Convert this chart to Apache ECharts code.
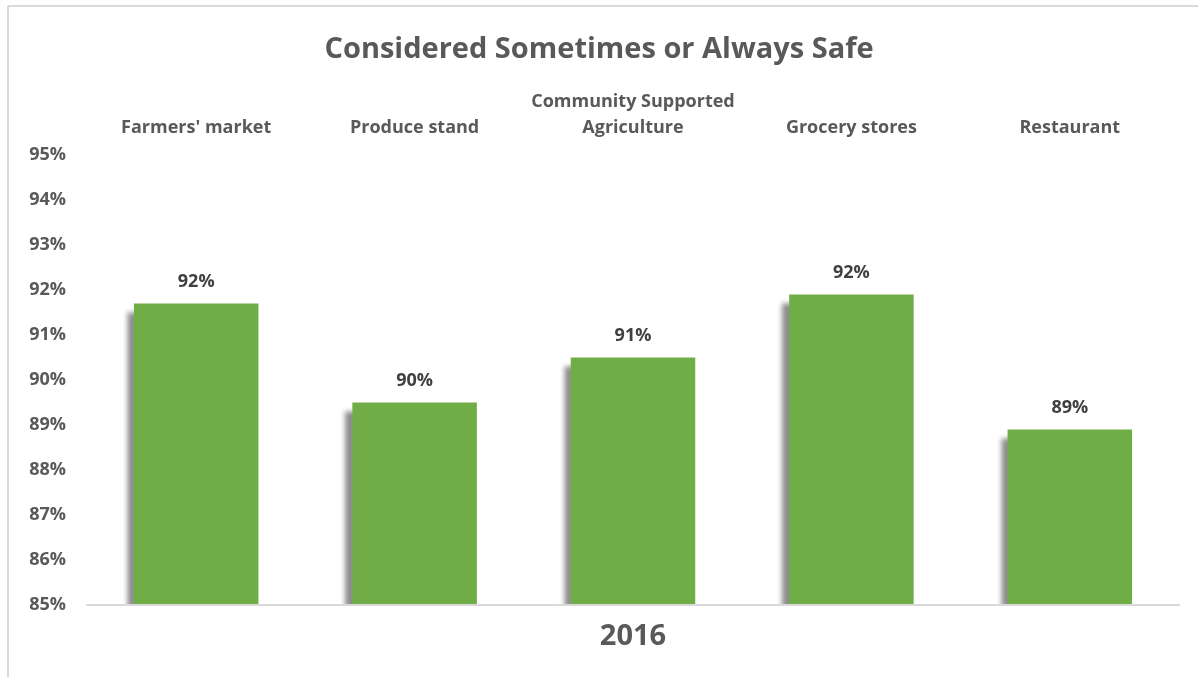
<!DOCTYPE html>
<html>
<head>
<meta charset="utf-8">
<script src="https://cdn.jsdelivr.net/npm/echarts@6/dist/echarts.min.js"></script>
<style>
  html, body { margin: 0; padding: 0; background: #fff; }
  #chart { width: 1198px; height: 677px; }
</style>
</head>
<body>
<div id="chart"></div>
<script>
// categories and values
var categories = ["Farmers' market", 'Produce stand', 'Community Supported\nAgriculture', 'Grocery stores', 'Restaurant'];
var safeShare = [91.7, 89.5, 90.5, 91.9, 88.9];
var yearLabel = '2016';
var titleText = 'Considered Sometimes or Always Safe';

var font = 'Open Sans';
var grey = '#595959';

var chart = echarts.init(document.getElementById('chart'));
chart.setOption({
  animation: false,
  title: {
    text: titleText,
    left: 'center',
    top: 30,
    textStyle: { fontFamily: font, fontSize: 29, fontWeight: 'bold', color: grey }
  },
  grid: { left: 87, right: 19, top: 155, bottom: 72 },
  graphic: [
    { type: 'line', shape: { x1: 8, y1: 6, x2: 1198, y2: 6 }, style: { stroke: '#d9d9d9', lineWidth: 2 } },
    { type: 'line', shape: { x1: 8, y1: 6, x2: 8, y2: 677 }, style: { stroke: '#d9d9d9', lineWidth: 2 } },
    // hides the part of the bar shadows that falls below the axis
    { type: 'rect', z: 10, shape: { x: 80, y: 606, width: 1110, height: 18 }, style: { fill: '#fff' } }
  ],
  xAxis: [{
    type: 'category',
    data: categories,
    position: 'bottom',
    z: 12,
    axisLine: { lineStyle: { color: '#d9d9d9', width: 2 } },
    axisTick: { show: false },
    axisLabel: { show: false },
    name: yearLabel,
    nameLocation: 'middle',
    nameGap: 17,
    nameTextStyle: { fontFamily: font, fontSize: 29, fontWeight: 'bold', color: grey }
  }, {
    type: 'category',
    data: categories,
    position: 'top',
    axisLine: { show: false },
    axisTick: { show: false },
    axisLabel: {
      interval: 0,
      margin: 14,
      fontFamily: font, fontSize: 18, fontWeight: 'bold', color: grey,
      lineHeight: 26
    }
  }],
  yAxis: {
    type: 'value',
    min: 85,
    max: 95,
    interval: 1,
    axisLine: { show: false },
    axisTick: { show: false },
    splitLine: { show: false },
    axisLabel: {
      margin: 21,
      formatter: '{value}%',
      fontFamily: font, fontSize: 18, fontWeight: 'bold', color: grey
    }
  },
  series: [{
    type: 'bar',
    data: safeShare,
    barWidth: '57%',
    itemStyle: {
      color: '#70ad47',
      shadowColor: 'rgba(0,0,0,0.45)',
      shadowBlur: 5,
      shadowOffsetX: -7,
      shadowOffsetY: 8
    },
    label: {
      show: true,
      position: 'top',
      distance: 13,
      formatter: function (p) { return Math.round(p.value) + '%'; },
      fontFamily: font, fontSize: 18, fontWeight: 'bold', color: '#404040'
    }
  }]
});
</script>
</body>
</html>
